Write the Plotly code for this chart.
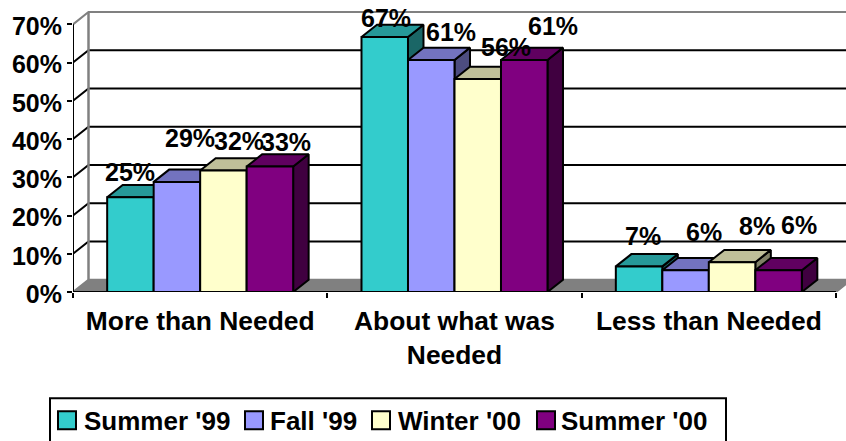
import plotly.graph_objects as go

categories = ["More than Needed", "About what was<br>Needed", "Less than Needed"]
series_names = ["Summer '99", "Fall '99", "Winter '00", "Summer '00"]
summer_99 = [24.8, 66.7, 6.7]
fall_99 = [28.8, 60.7, 5.7]
winter_00 = [31.8, 55.7, 7.8]
summer_00 = [32.8, 60.7, 5.7]
series_values = [summer_99, fall_99, winter_00, summer_00]
y_ticks = [0, 10, 20, 30, 40, 50, 60, 70]

front_colors = ["#33CCCC", "#9999FF", "#FFFFCC", "#800080"]
top_colors = ["#269999", "#7373BF", "#BFBF99", "#600060"]
side_colors = ["#1A6666", "#4D4D80", "#808066", "#400040"]

# label nudges in px (the original labels were hand-moved), per series per category
label_dx = [[0, 1, 4], [13, 20, 18], [16, 28, 25], [16, 29, 20]]
label_dy = [[25, 19, 30], [44, 28, 38], [29, 32, 36], [25, 34, 45]]

# legend entry layout in px
legend_swatch_left = [58, 245, 372, 537]
legend_text_left = [82, 268, 396, 559]

W, H = 846, 441
LEFT, BASE = 73, 292.5
CAT_PX, UNIT_PX = 254.33, 3.83
x_range = [0, (W - LEFT) / CAT_PX]
y_range = [0, BASE / UNIT_PX]
DX, DZ = 15.5 / CAT_PX, 12.3 / UNIT_PX
GROUP = 186 / CAT_PX
BAR_W = GROUP / 4
FONT = "Liberation Sans"
positions = [i + 0.5 for i in range(len(categories))]


def px(x):
    return (x - LEFT) / (W - LEFT)


def py(y):
    return (BASE - y) / BASE


fig = go.Figure()


def poly(xs, ys, line="black", width=2, fill=None):
    fig.add_trace(go.Scatter(
        x=xs, y=ys, mode="lines", showlegend=False, hoverinfo="skip", cliponaxis=False,
        line=dict(color=line, width=width),
        fill="toself" if fill else "none", fillcolor=fill))


xe = x_range[1] + DX
poly([0, 3, 3 + DX, xe, DX, 0], [0, 0, DZ, DZ, DZ, 0], line="#808080", fill="#808080")
for v in y_ticks[1:]:
    c = "#808080" if v == 70 else "black"
    poly([0, DX, xe], [v, v + DZ, v + DZ], line=c)
poly([DX, DX], [DZ, 70 + DZ], line="#808080", width=2.5)
poly([0, 0], [0, 70])
poly([0, 3], [0, 0])

for c, pos in enumerate(positions):
    for s, vals in enumerate(series_values):
        x0 = pos - GROUP / 2 + s * BAR_W
        x1 = x0 + BAR_W
        v = vals[c]
        poly([x1, x1 + DX, x1 + DX, x1, x1], [0, DZ, v + DZ, v, 0], fill=side_colors[s])
        poly([x0, x0 + DX, x1 + DX, x1, x0], [v, v + DZ, v + DZ, v, v], fill=top_colors[s])

for s, vals in enumerate(series_values):
    fig.add_trace(go.Bar(
        x=positions, y=vals, name=series_names[s], xaxis="x2", yaxis="y2", cliponaxis=False,
        showlegend=False,
        marker=dict(color=front_colors[s], line=dict(color="black", width=2))))
    for c, pos in enumerate(positions):
        fig.add_annotation(
            x=pos - GROUP / 2 + (s + 0.5) * BAR_W, y=vals[c], xref="x2", yref="y2",
            text=f"{round(vals[c])}%", showarrow=False, xanchor="center", yanchor="middle",
            xshift=label_dx[s][c], yshift=label_dy[s][c],
            font=dict(family=FONT, size=25, color="black", weight="bold"))

# legend box, swatches and texts
fig.add_shape(type="rect", xref="paper", yref="paper", x0=px(50), x1=px(726), y0=py(399), y1=py(446),
              line=dict(color="black", width=2), fillcolor="white")
for s, name in enumerate(series_names):
    fig.add_shape(type="rect", xref="paper", yref="paper",
                  x0=px(legend_swatch_left[s]), x1=px(legend_swatch_left[s] + 18), y0=py(412), y1=py(430),
                  line=dict(color="black", width=2), fillcolor=front_colors[s])
    fig.add_annotation(x=px(legend_text_left[s]), y=py(422), xref="paper", yref="paper", text=name,
                       showarrow=False, xanchor="left", yanchor="middle",
                       font=dict(family=FONT, size=26, color="black", weight="bold"))

fig.update_layout(
    width=W, height=H, autosize=False, showlegend=False,
    margin=dict(l=LEFT, r=0, t=0, b=H - BASE, pad=0, autoexpand=False),
    paper_bgcolor="white", plot_bgcolor="white", barmode="group", bargap=1 - GROUP, bargroupgap=0,
    font=dict(family=FONT, size=26, color="black", weight="bold"),
    xaxis=dict(range=x_range, tickmode="array", tickvals=positions, ticktext=categories,
               ticks="outside", ticklen=0, tickwidth=0, tickcolor="rgba(0,0,0,0)",
               ticklabelstandoff=5, showgrid=False, zeroline=False, showline=False,
               tickfont=dict(family=FONT, size=26.4, color="black", weight="bold"),
               minor=dict(ticks="outside", tickmode="array", tickvals=[0, 1, 2, 3], ticklen=5,
                          tickwidth=2, tickcolor="black", showgrid=False)),
    yaxis=dict(range=y_range, tickmode="array", tickvals=y_ticks, ticktext=[f"{v}%" for v in y_ticks],
               ticks="outside", ticklen=5, tickwidth=2, tickcolor="black", ticklabelstandoff=0,
               ticklabelshift=2, showgrid=False, zeroline=False, showline=False,
               tickfont=dict(family=FONT, size=25, color="black", weight="bold")),
    xaxis2=dict(range=x_range, overlaying="x", visible=False),
    yaxis2=dict(range=y_range, overlaying="y", visible=False),
)
fig.write_html("out.html", config=dict(displayModeBar=False),
               post_script="document.body.style.margin='0';document.documentElement.style.overflow='hidden';")
